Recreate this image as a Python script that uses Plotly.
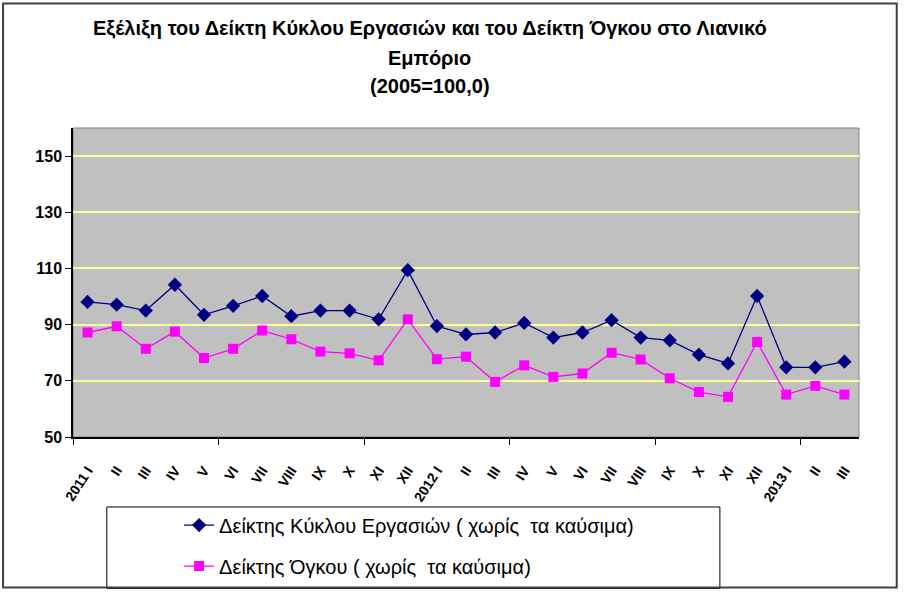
import plotly.graph_objects as go

# months, 2011 I .. 2013 III
months = ['2011 I', 'II', 'III', 'IV', 'V', 'VI', 'VII', 'VIII', 'IX', 'X', 'XI', 'XII',
          '2012 I', 'II', 'III', 'IV', 'V', 'VI', 'VII', 'VIII', 'IX', 'X', 'XI', 'XII',
          '2013 I', 'II', 'III']

turnover = [98.1, 97.1, 95.0, 104.2, 93.5, 96.7, 100.2, 93.0, 95.0, 95.0, 91.9, 109.4,
            89.5, 86.5, 87.2, 90.6, 85.4, 87.2, 91.6, 85.4, 84.4, 79.3, 76.2, 100.2,
            74.8, 74.8, 76.8]

volume = [87.2, 89.4, 81.4, 87.5, 78.1, 81.4, 87.9, 84.8, 80.4, 79.8, 77.3, 91.9,
          77.7, 78.6, 69.6, 75.5, 71.4, 72.6, 80.0, 77.6, 70.9, 66.0, 64.3, 83.8,
          65.1, 68.2, 65.1]

y_ticks = [50, 70, 90, 110, 130, 150]

title_lines = ['Εξέλιξη του Δείκτη Κύκλου Εργασιών και του Δείκτη Όγκου στο Λιανικό',
               'Εμπόριο', '(2005=100,0)']

xs = list(range(len(months)))
font = 'Liberation Sans, Arial, sans-serif'

fig = go.Figure()
fig.add_trace(go.Scatter(
    x=xs, y=turnover, mode='lines+markers', legendgroup='a',
    name='Δείκτης Κύκλου Εργασιών ( χωρίς  τα καύσιμα)',
    line=dict(color='#000080', width=1.3),
    marker=dict(symbol='diamond', size=11, color='#000080')))
fig.add_trace(go.Scatter(
    x=xs, y=volume, mode='lines+markers', legendgroup='b',
    name='Δείκτης Όγκου ( χωρίς  τα καύσιμα)',
    line=dict(color='#FF00FF', width=1.3),
    marker=dict(symbol='square', size=10, color='#FF00FF')))

# plot-area frame, legend box and outer frame
fig.add_shape(type='rect', xref='paper', yref='paper', x0=0, x1=1, y0=0, y1=1,
              line=dict(color='#808080', width=1), layer='below')
fig.add_shape(type='rect', xref='paper', yref='paper', x0=0.043, x1=0.823,
              y0=-0.49, y1=-0.2265, line=dict(color='black', width=1))
fig.add_shape(type='rect', xref='paper', yref='paper', x0=-0.089, x1=1.048,
              y0=-0.487, y1=1.403, line=dict(color='#404040', width=2))

for txt, yy in zip(title_lines, [1.324, 1.227, 1.136]):
    fig.add_annotation(text=txt, xref='paper', yref='paper',
                       x=0.454, y=yy, yanchor='middle', showarrow=False,
                       font=dict(family=font, size=20, color='black', weight='bold'))

fig.update_layout(
    width=905, height=597,
    margin=dict(l=73, r=46, t=128, b=160, autoexpand=False),
    paper_bgcolor='white', plot_bgcolor='#C0C0C0',
    font=dict(family=font, color='black'),
    showlegend=True,
    legend=dict(x=0.135, y=-0.222, xanchor='left', yanchor='top',
                font=dict(size=20, family=font), tracegroupgap=12,
                bgcolor='rgba(0,0,0,0)'),
)
fig.update_xaxes(
    range=[-0.5, len(months) - 0.5], tickmode='array', tickvals=xs, ticktext=months,
    tickangle=-57, tickfont=dict(size=14, family=font, weight='bold'), ticks='',
    ticklabelstandoff=18,
    showgrid=False, zeroline=False, showline=True, linecolor='black', linewidth=1.5,
    minor=dict(tickmode='array', tickvals=[-0.5, 4.5, 9.5, 14.5, 19.5, 24.5],
               ticks='outside', ticklen=6, tickcolor='black', showgrid=False),
)
fig.update_yaxes(
    range=[50, 160], tickmode='array', tickvals=y_ticks,
    tickfont=dict(size=16, family=font, weight='bold'), ticks='outside', ticklen=6,
    tickcolor='black', showgrid=True, gridcolor='#FFFF99', gridwidth=1.5,
    zeroline=False, showline=True, linecolor='black', linewidth=1.5,
)

# drop the default page margin so the figure sits at the window corner
fig.write_html('out.html', config={'displayModeBar': False},
               post_script="document.body.style.margin='0';")
